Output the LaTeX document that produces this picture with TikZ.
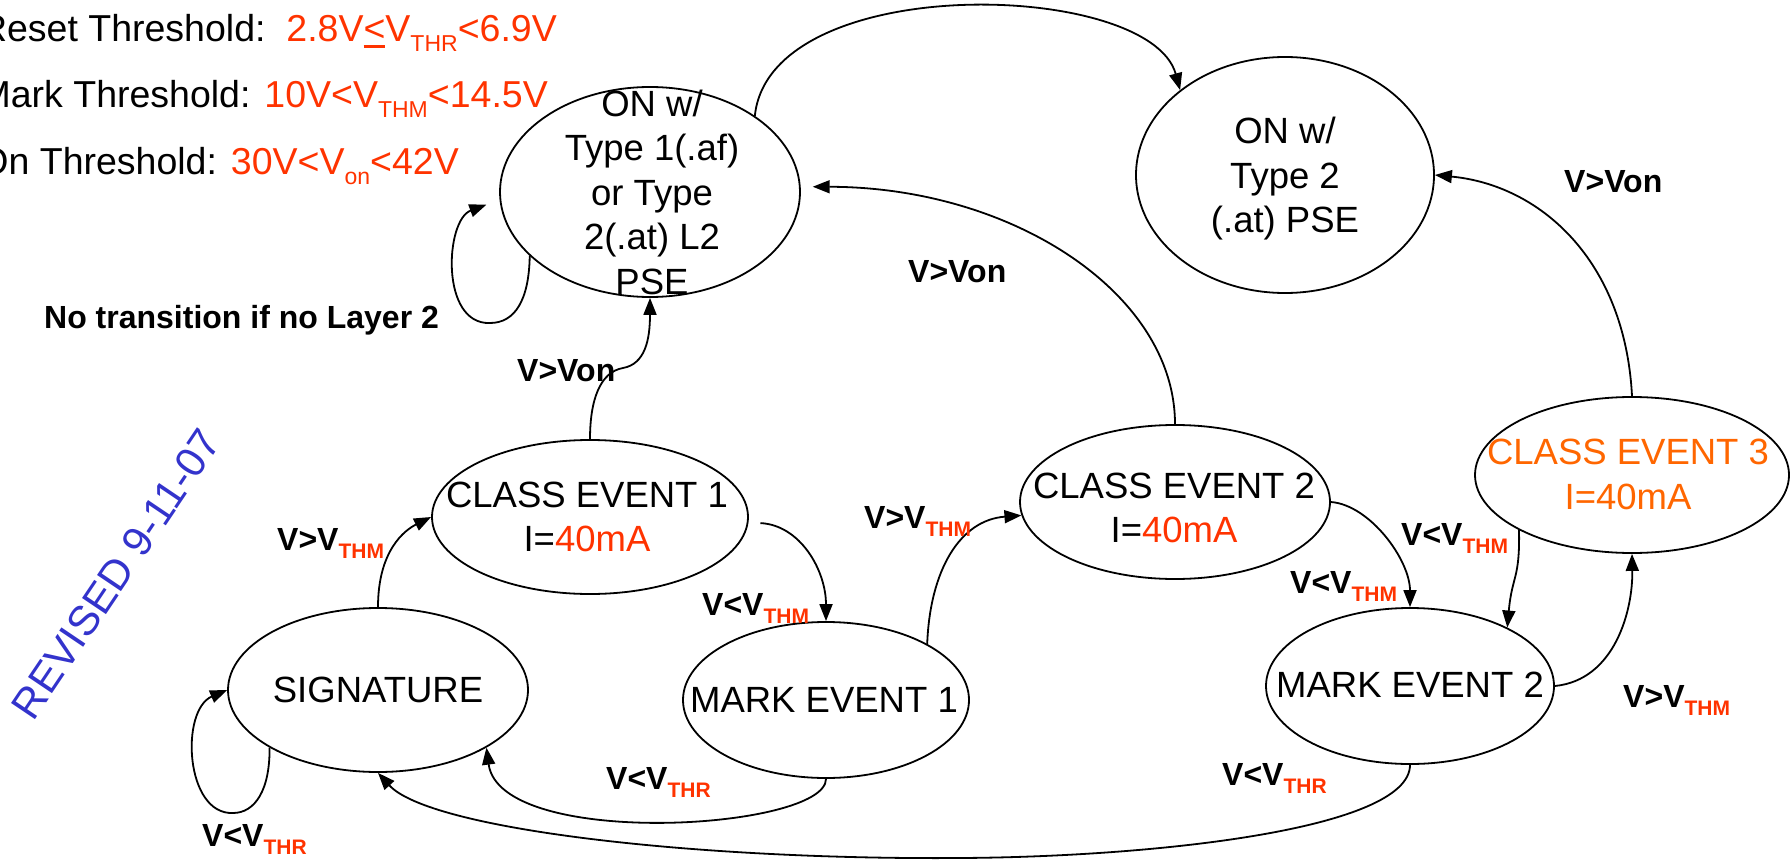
\documentclass[tikz,border=0pt]{standalone}
\usepackage{fontspec}
\setmainfont{Liberation Sans}
\usetikzlibrary{arrows.meta,shapes.geometric}
\definecolor{thred}{RGB}{255,51,0}
\definecolor{ceorange}{RGB}{255,102,0}
\definecolor{revblue}{RGB}{51,51,204}
\newcommand\lsub[1]{\raisebox{-8pt}{\fontsize{21}{21}\selectfont\color{thred}#1}}
\newcommand\tsub[1]{\raisebox{-10pt}{\fontsize{23}{23}\selectfont #1}}
\newcommand\ulsym[1]{\setbox0\hbox{#1}\rlap{\rule[-6pt]{\wd0}{2.6pt}}\box0}
\begin{document}
\begin{tikzpicture}[x=1pt,y=-1pt,
  stateshape/.style={draw, line width=1.8pt, ellipse, inner sep=0pt},
  stxt/.style={font=\fontsize{36.5}{44.5}\selectfont, align=center, inner sep=0pt},
  lbl/.style={font=\fontsize{32}{38}\selectfont\bfseries, inner sep=0pt, anchor=base west},
  thr/.style={font=\fontsize{37.5}{45}\selectfont, inner sep=0pt, anchor=base east},
  conn/.style={line width=1.8pt, -{Triangle[length=17pt,width=13pt]}},
]
\useasboundingbox (0,0) rectangle (1791,861);

% states
\node[stateshape, minimum width=300pt, minimum height=210pt] (A) at (650,192) {};
\node[stxt] (At) at (652,192) {ON w/\\Type 1(.af)\\or Type\\2(.at) L2\\PSE};
\node[stateshape, minimum width=298pt, minimum height=236pt] (B) at (1285,175) {};
\node[stxt] (Bt) at (1285,179) {ON w/\\Type 2\\(.at) PSE};
\node[stateshape, minimum width=316pt, minimum height=154pt] (CE1) at (590,517) {};
\node[stxt] (CE1t) at (587,517) {CLASS EVENT 1\\I={\color{thred}40mA}};
\node[stateshape, minimum width=300pt, minimum height=164pt] (SIG) at (378,690) {};
\node[stxt] (SIGt) at (378,690) {SIGNATURE};
\node[stateshape, minimum width=286pt, minimum height=156pt] (ME1) at (826,700) {};
\node[stxt] (ME1t) at (824,700) {MARK EVENT 1};
\node[stateshape, minimum width=310pt, minimum height=154pt] (CE2) at (1175,502) {};
\node[stxt] (CE2t) at (1174,508) {CLASS EVENT 2\\I={\color{thred}40mA}};
\node[stateshape, minimum width=288pt, minimum height=156pt] (ME2) at (1410,686) {};
\node[stxt] (ME2t) at (1410,685) {MARK EVENT 2};
\node[stateshape, minimum width=314pt, minimum height=156pt] (CE3) at (1632,475) {};
\node[stxt, text=ceorange] (CE3t) at (1628,474.5) {CLASS EVENT 3\\I=40mA};

% connectors
\draw[conn, shorten >=14pt] (A.208) .. controls (529,300) and (515,323) .. (490,323)
  .. controls (440,325) and (445,220) .. (A.183);
\draw[conn] (SIG.208) .. controls (270,790) and (255,813) .. (233,813)
  .. controls (185,815) and (180,710) .. (SIG.west);
\draw[conn] (A.36) .. controls (770,-30) and (1150,-20) .. (B.141);
\draw[conn, shorten >=12pt] (CE2.north) .. controls (1175,294) and (1013,187) .. (A.2);
\draw[conn] (CE3.north) .. controls (1625,260) and (1540,185) .. (B.east);
\draw[conn] (CE1.north) .. controls (590,400) and (600,372) .. (623,368)
  .. controls (645,364) and (650,340) .. (A.south);
\draw[conn] (SIG.north) .. controls (378,550) and (405,530) .. (CE1.west);
\draw[conn, shorten <=12pt] (CE1.-2) .. controls (800,525) and (826,570) .. (ME1.north);
\draw[conn] (ME1.south) .. controls (826,830) and (500,850) .. (SIG.-28);
\draw[conn] (ME1.29) .. controls (930,570) and (960,520) .. (CE2.185);
\draw[conn] (CE2.east) .. controls (1370,505) and (1410,560) .. (ME2.north);
\draw[conn] (CE3.206) .. controls (1520,580) and (1512,575) .. (ME2.31);
\draw[conn] (ME2.east) .. controls (1615,680) and (1633,610) .. (CE3.south);
\draw[conn] (ME2.south) .. controls (1410,830) and (1150,857) .. (960,858)
  .. controls (700,860) and (430,830) .. (SIG.south);

% labels
\node[lbl] (l1) at (44,328) {No transition if no Layer 2};
\node[lbl] (l2) at (517,381) {V>Von};
\node[lbl] (l3) at (908,282) {V>Von};
\node[lbl] (l4) at (1564,193) {V>Von};
\node[lbl] (l5) at (277,550) {V>V\lsub{THM}};
\node[lbl] (l6) at (702,615) {V<V\lsub{THM}};
\node[lbl] (l7) at (606,789) {V<V\lsub{THR}};
\node[lbl] (l8) at (202,846) {V<V\lsub{THR}};
\node[lbl] (l9) at (864,528) {V>V\lsub{THM}};
\node[lbl] (l10) at (1290,593) {V<V\lsub{THM}};
\node[lbl] (l11) at (1401,545) {V<V\lsub{THM}};
\node[lbl] (l12) at (1623,707) {V>V\lsub{THM}};
\node[lbl] (l13) at (1222,785) {V<V\lsub{THR}};

% thresholds
\node[thr] (t1) at (557,42) {Reset Threshold:\ \ {\color{thred}2.8V\ulsym{<}V\tsub{THR}<6.9V}};
\node[thr] (t2) at (548,108) {Mark Threshold: {\color{thred}10V<V\tsub{THM}<14.5V}};
\node[thr] (t3) at (459,175) {On Threshold: {\color{thred}30V<V\tsub{on}<42V}};

% revision stamp
\node[font=\fontsize{42}{42}\selectfont, text=revblue, rotate=56, inner sep=0pt] (rev) at (116,574) {REVISED 9-11-07};
\end{tikzpicture}
\end{document}
